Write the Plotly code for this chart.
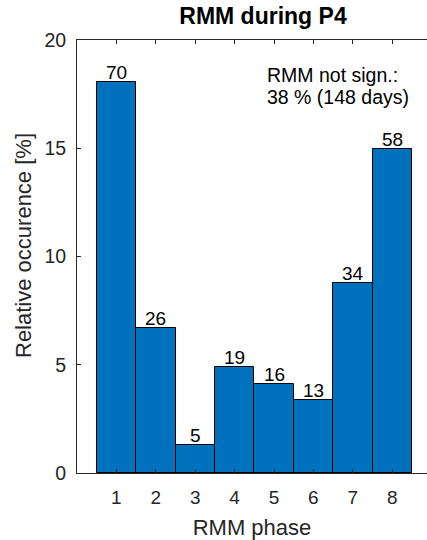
import plotly.graph_objects as go

phases = [1, 2, 3, 4, 5, 6, 7, 8]
rel_occurrence = [18.04, 6.70, 1.29, 4.90, 4.12, 3.35, 8.76, 14.95]
day_counts = [70, 26, 5, 19, 16, 13, 34, 58]
x_ticks = [1, 2, 3, 4, 5, 6, 7, 8]
y_ticks = [0, 5, 10, 15, 20]
title_text = "RMM during P4"
note_lines = ["RMM not sign.:", "38 % (148 days)"]

FONT = "Liberation Sans, Arial, Helvetica, sans-serif"
AX = "#262626"

W, H = 427, 540
ML, MR, MT, MB = 77, 0, 40, 67
PW, PH = W - ML - MR, H - MT - MB

fig = go.Figure()
fig.add_trace(go.Bar(
    x=phases, y=rel_occurrence, width=1.0,
    marker=dict(color="#0072BD", line=dict(color="#000000", width=1)),
    showlegend=False, hoverinfo="skip",
))

for xp, yv, c in zip(phases, rel_occurrence, day_counts):
    fig.add_annotation(x=xp, y=yv, xref="x", yref="y", text=str(c),
                       showarrow=False, xanchor="center", yanchor="bottom",
                       yshift=-3, font=dict(family=FONT, size=19, color="#000000"))

fig.add_annotation(x=4.78, y=18.38, xref="x", yref="y", text=note_lines[0],
                   showarrow=False, xanchor="left", yanchor="middle",
                   font=dict(family=FONT, size=19.5, color="#000000"))
fig.add_annotation(x=4.78, y=17.36, xref="x", yref="y", text=note_lines[1],
                   showarrow=False, xanchor="left", yanchor="middle",
                   font=dict(family=FONT, size=19.5, color="#000000"))

# y-axis title placed as a rotated annotation (paper coords are plot-area relative)
fig.add_annotation(x=(24 - ML) / PW, y=(H - MB - 246) / PH, xref="paper", yref="paper",
                   yanchor="middle", xanchor="center",
                   text="Relative occurence [%]", textangle=-90, showarrow=False,
                   font=dict(family=FONT, size=22, color=AX))

fig.update_layout(
    width=W, height=H,
    margin=dict(l=ML, r=MR, t=MT, b=MB),
    plot_bgcolor="white", paper_bgcolor="white",
    bargap=0,
    title=dict(text="<b>" + title_text + "</b>", x=263 / W, xanchor="center",
               y=1 - 16 / H, yanchor="middle",
               font=dict(family=FONT, size=23, color="#000000")),
    font=dict(family=FONT, color=AX),
)
fig.update_xaxes(
    range=[0, PW / 39.4], tickmode="array", tickvals=x_ticks,
    ticktext=[str(t) for t in x_ticks],
    ticks="inside", ticklen=4, tickcolor=AX, tickwidth=1,
    showline=True, linecolor=AX, linewidth=1, mirror="allticks",
    showgrid=False, zeroline=False,
    tickfont=dict(family=FONT, size=19, color=AX),
    ticklabelstandoff=7,
    title=dict(text="RMM phase", font=dict(family=FONT, size=22, color=AX), standoff=12),
)
fig.update_yaxes(
    range=[0, 20], tickmode="array", tickvals=y_ticks,
    ticks="inside", ticklen=4, tickcolor=AX, tickwidth=1,
    showline=True, linecolor=AX, linewidth=1, mirror=False,
    showgrid=False, zeroline=False,
    tickfont=dict(family=FONT, size=19.5, color=AX),
    ticklabelstandoff=6,
)

fig.write_html("out.html")
